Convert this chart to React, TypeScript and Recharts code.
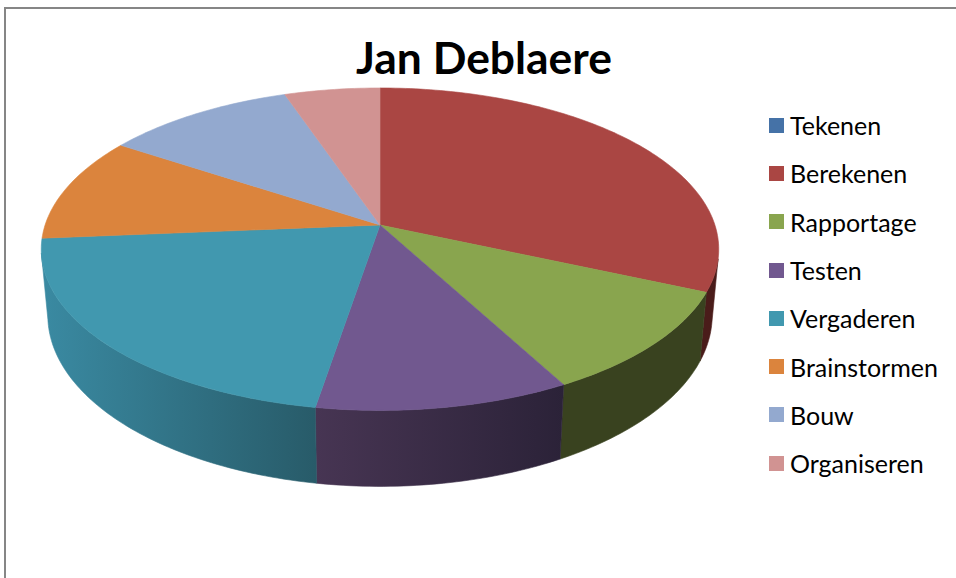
import { Legend, Pie, PieChart } from 'recharts'

const categories = ['Tekenen', 'Berekenen', 'Rapportage', 'Testen', 'Vergaderen', 'Brainstormen', 'Bouw', 'Organiseren']
const shares = [0, 30, 10, 10, 20, 10, 10, 5]

const topColors = ['#4572a7', '#aa4643', '#89a54e', '#71588f', '#4198af', '#db843d', '#93a9cf', '#d19392']
const wallLeftColors = ['#2f4e73', '#4a1c1a', '#39421f', '#473553', '#3a8aa2', '#96592a', '#64738d', '#8f6564']
const wallRightColors = ['#2f4e73', '#4a1c1a', '#39421f', '#2b2238', '#285b69', '#96592a', '#64738d', '#8f6564']

const rows = categories.map((name, i) => ({ name, value: shares[i], fill: topColors[i] }))

// perspective of the disc, relative to the pie radius
const TILT = 0.15
const TOP_X = 0.985
const TOP_Y = 0.4635
const BASE_X = 0.966
const BASE_Y = 0.492
const BASE_DROP = 0.19
const FRONT_FROM = 102
const FRONT_TO = 260

function project(deg: number, cx: number, cy: number, r: number, base: boolean) {
  const rad = (deg * Math.PI) / 180
  const u = Math.sin(rad)
  const v = -Math.cos(rad)
  const d = 1 - TILT * v
  return {
    x: cx + (r * (base ? BASE_X : TOP_X) * u) / d,
    y: cy + (base ? BASE_DROP * r : 0) + (r * (base ? BASE_Y : TOP_Y) * v) / d,
  }
}

function rim(from: number, to: number, cx: number, cy: number, r: number, base: boolean) {
  const steps = Math.max(2, Math.ceil(Math.abs(to - from)))
  const out: string[] = []
  for (let i = 0; i <= steps; i++) {
    const p = project(from + ((to - from) * i) / steps, cx, cy, r, base)
    out.push(`${p.x.toFixed(2)} ${p.y.toFixed(2)}`)
  }
  return out
}

function Slice3D(props: any) {
  const { cx, cy, outerRadius, startAngle, endAngle, fill, index } = props
  // recharts angles run counter-clockwise from 3 o'clock
  const a = 90 - startAngle
  const b = 90 - endAngle
  if (Math.abs(b - a) < 0.01) return null

  const top = `M ${cx} ${cy} L ${rim(a, b, cx, cy, outerRadius, false).join(' L ')} Z`
  const from = Math.max(a, FRONT_FROM)
  const to = Math.min(b, FRONT_TO)
  const gradId = `wall-${index}`

  return (
    <g>
      {to > from && (
        <>
          <defs>
            <linearGradient id={gradId} x1="0" y1="0" x2="1" y2="0">
              <stop offset="0%" stopColor={wallLeftColors[index]} />
              <stop offset="100%" stopColor={wallRightColors[index]} />
            </linearGradient>
          </defs>
          <path
            d={`M ${[
              ...rim(from, to, cx, cy, outerRadius, false),
              ...rim(to, from, cx, cy, outerRadius, true),
            ].join(' L ')} Z`}
            fill={`url(#${gradId})`}
            stroke={`url(#${gradId})`}
            strokeWidth={0.6}
          />
        </>
      )}
      <path d={top} fill={fill} stroke={fill} strokeWidth={0.6} />
    </g>
  )
}

function LegendList({ payload }: any) {
  return (
    <ul style={{ listStyle: 'none', margin: 0, padding: 0 }}>
      {(payload ?? []).map((entry: any) => (
        <li key={entry.value} style={{ display: 'flex', alignItems: 'center', height: 48.3 }}>
          <span style={{ width: 15, height: 15, background: entry.color, marginRight: 6 }} />
          <span style={{ fontSize: 25, color: '#000' }}>{entry.value}</span>
        </li>
      ))}
    </ul>
  )
}

export default function App() {
  return (
    <div style={{ position: 'absolute', left: 0, top: 0, width: 956, height: 578, overflow: 'hidden', background: '#fff', fontFamily: 'Lato, sans-serif' }}>
      <div style={{ position: 'absolute', left: 4, top: 7, width: 1000, height: 600, borderTop: '2px solid #868686', borderLeft: '2px solid #868686' }} />
      <PieChart width={956} height={578} margin={{ top: 0, right: 0, bottom: 0, left: 0 }} style={{ position: 'absolute', left: 0, top: 0 }}>
        <text x={484} y={74} textAnchor="middle" fontSize={44.4} fontWeight={700} fill="#000">
          Jan Deblaere
        </text>
        <Pie
          data={rows}
          dataKey="value"
          nameKey="name"
          cx={380}
          cy={225}
          outerRadius={340}
          startAngle={90}
          endAngle={-270}
          stroke="none"
          isAnimationActive={false}
          shape={Slice3D}
          inactiveShape={Slice3D}
        />
        <Legend
          layout="vertical"
          itemSorter={null}
          content={<LegendList />}
          wrapperStyle={{ position: 'absolute', left: 769, top: 101, width: 187, height: 388, bottom: 'auto', right: 'auto' }}
        />
      </PieChart>
    </div>
  )
}
